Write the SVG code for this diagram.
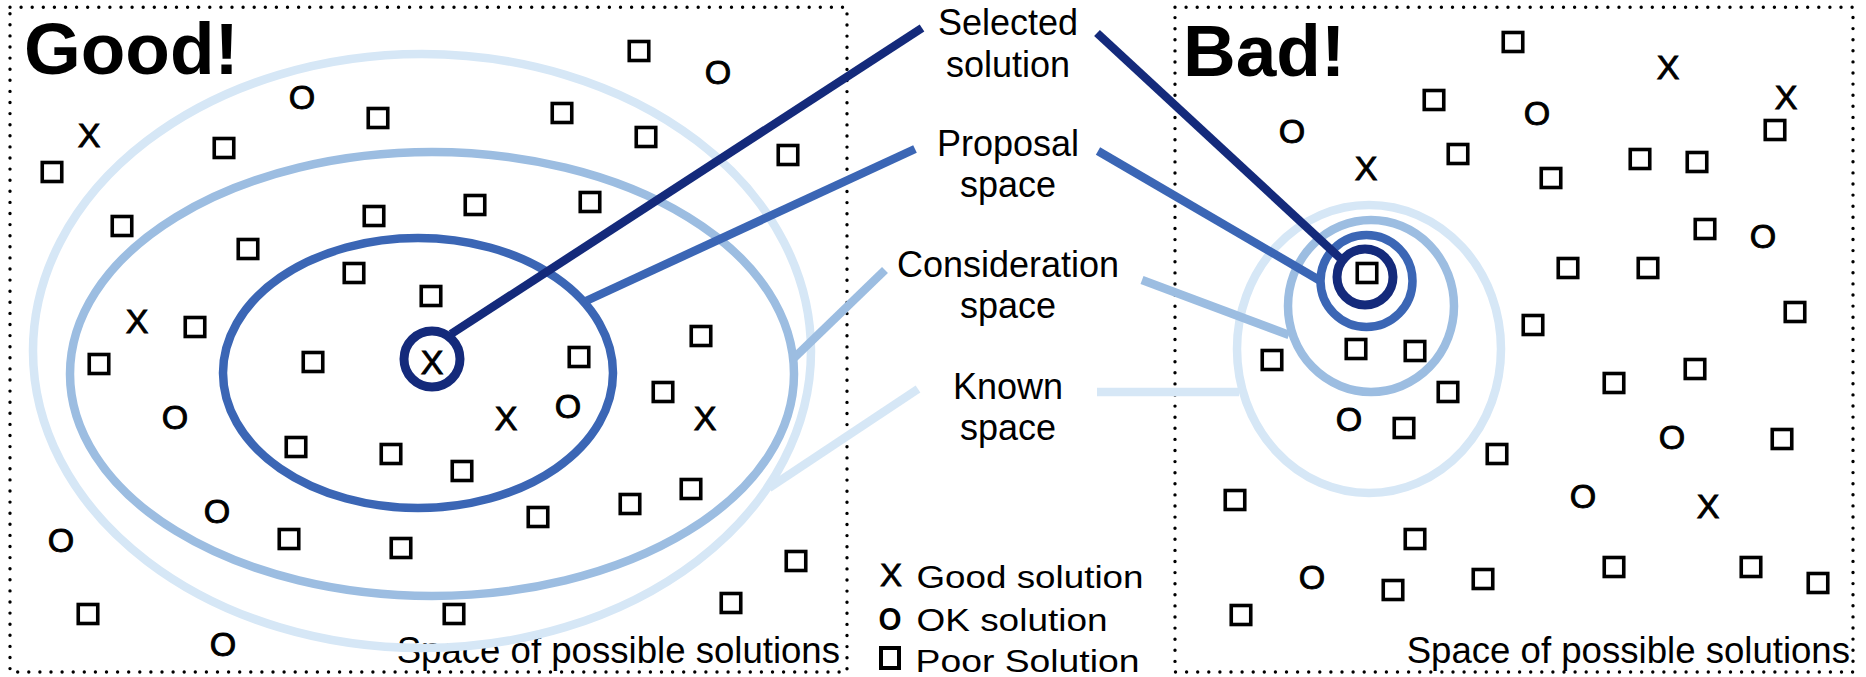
<svg xmlns="http://www.w3.org/2000/svg" width="1866" height="677" viewBox="0 0 1866 677">
<style>
.frame{fill:none;stroke:#000;stroke-width:3.4;stroke-dasharray:0 11.1;stroke-linecap:round}
.title{font-family:"Liberation Sans",Arial,sans-serif;font-weight:bold;font-size:73px;fill:#000}
.cap{font-family:"Liberation Sans",Arial,sans-serif;font-size:36.6px;fill:#000;text-anchor:end}
.lbl{font-family:"Liberation Sans",Arial,sans-serif;font-size:36px;fill:#000;text-anchor:middle}
.leg{font-family:"Liberation Sans",Arial,sans-serif;font-size:32px;fill:#000}
.mk{font-family:"Liberation Sans",Arial,sans-serif;font-size:34px;fill:#000;stroke:#000;stroke-width:0.9;text-anchor:middle}
.sq{fill:none;stroke:#000;stroke-width:3.6}
.sel{fill:none;stroke:#142a7b;stroke-width:9}
.pro{fill:none;stroke:#3b66b5;stroke-width:8.5}
.con{fill:none;stroke:#9cbde1;stroke-width:8.5}
.kno{fill:none;stroke:#d6e7f6;stroke-width:8.5}
</style>
<defs>
<rect id="s" x="-9.75" y="-9.5" width="19.5" height="19" class="sq"/>
</defs>
<rect width="1866" height="677" fill="#fff"/>

<g id="panel-good">
<rect class="frame" x="10" y="7.3" width="837" height="664.7"/>
<text class="title" x="24" y="74">Good!</text>
<text class="cap" x="840" y="663">Space of possible solutions</text>
</g>
<g id="panel-bad">
<rect class="frame" x="1175" y="7.3" width="678" height="664.7"/>
<text class="title" x="1183" y="76">Bad!</text>
<text class="cap" x="1850" y="663">Space of possible solutions</text>
</g>

<g id="good-known-space"><ellipse class="kno" cx="422" cy="351" rx="389" ry="297"/></g>
<g id="good-consideration-space"><ellipse class="con" cx="432" cy="374" rx="362" ry="222"/></g>
<g id="good-proposal-space"><ellipse class="pro" cx="418" cy="373" rx="195" ry="135"/></g>

<g id="bad-known-space"><ellipse class="kno" cx="1369" cy="349" rx="132" ry="144"/></g>
<g id="bad-consideration-space"><ellipse class="con" cx="1371" cy="306" rx="83" ry="86"/></g>
<g id="bad-proposal-space"><circle class="pro" cx="1366.5" cy="281" r="46"/></g>

<g id="connectors" fill="none" stroke-width="8.5">
<line x1="451" y1="334" x2="922" y2="28" stroke="#142a7b"/>
<line x1="1097" y1="33" x2="1340" y2="258" stroke="#142a7b"/>
<line x1="586" y1="301" x2="915" y2="149" stroke="#3b66b5"/>
<line x1="1098" y1="151" x2="1319" y2="280" stroke="#3b66b5"/>
<line x1="794" y1="358" x2="885" y2="270" stroke="#9cbde1"/>
<line x1="1142" y1="280" x2="1289" y2="335" stroke="#9cbde1"/>
<line x1="769" y1="488" x2="918" y2="389" stroke="#d6e7f6"/>
<line x1="1097" y1="392" x2="1239" y2="392" stroke="#d6e7f6"/>
</g>

<g id="good-selected"><circle class="sel" cx="432" cy="359" r="28"/><text class="mk" x="432" y="374">X</text></g>
<g id="bad-selected"><circle class="sel" cx="1365" cy="277" r="28"/><use href="#s" x="1367" y="273"/></g>

<g id="label-selected"><text class="lbl" x="1008" y="35">Selected</text><text class="lbl" x="1008" y="77">solution</text></g>
<g id="label-proposal"><text class="lbl" x="1008" y="156">Proposal</text><text class="lbl" x="1008" y="197">space</text></g>
<g id="label-consideration"><text class="lbl" x="1008" y="277">Consideration</text><text class="lbl" x="1008" y="318">space</text></g>
<g id="label-known"><text class="lbl" x="1008" y="399">Known</text><text class="lbl" x="1008" y="440">space</text></g>

<g id="legend">
<text class="leg" x="891" y="586" font-size="25" text-anchor="middle" stroke="#000" stroke-width="0.8" textLength="22" lengthAdjust="spacingAndGlyphs">X</text>
<text class="leg" x="890" y="630.3" font-size="28" font-weight="bold" text-anchor="middle" textLength="23" lengthAdjust="spacingAndGlyphs">O</text>
<rect x="881" y="648" width="18" height="20" fill="none" stroke="#000" stroke-width="4"/>
<text class="leg" x="916.5" y="588" textLength="227" lengthAdjust="spacingAndGlyphs">Good solution</text>
<text class="leg" x="916.5" y="630.7" textLength="191" lengthAdjust="spacingAndGlyphs">OK solution</text>
<text class="leg" x="915.5" y="671.5" textLength="224" lengthAdjust="spacingAndGlyphs">Poor Solution</text>
</g>

<g id="good-markers">
<use href="#s" x="639" y="51"/><use href="#s" x="378" y="118"/><use href="#s" x="562" y="113"/><use href="#s" x="646" y="137"/>
<use href="#s" x="224" y="148"/><use href="#s" x="788" y="155"/><use href="#s" x="52" y="172"/><use href="#s" x="122" y="226"/>
<use href="#s" x="475" y="205"/><use href="#s" x="590" y="202"/><use href="#s" x="374" y="216"/><use href="#s" x="248" y="249"/>
<use href="#s" x="354" y="273"/><use href="#s" x="431" y="296"/><use href="#s" x="195" y="327"/><use href="#s" x="701" y="336"/>
<use href="#s" x="99" y="364"/><use href="#s" x="313" y="362"/><use href="#s" x="579" y="357"/><use href="#s" x="663" y="392"/>
<use href="#s" x="296" y="447"/><use href="#s" x="391" y="454"/><use href="#s" x="462" y="471"/><use href="#s" x="691" y="489"/>
<use href="#s" x="630" y="504"/><use href="#s" x="538" y="517"/><use href="#s" x="289" y="539"/><use href="#s" x="401" y="548"/>
<use href="#s" x="796" y="561"/><use href="#s" x="731" y="603"/><use href="#s" x="88" y="614"/><use href="#s" x="454" y="614"/>
<text class="mk" x="302" y="108.5">O</text><text class="mk" x="718" y="84">O</text><text class="mk" x="175" y="429">O</text>
<text class="mk" x="568" y="418">O</text><text class="mk" x="217" y="523">O</text><text class="mk" x="61" y="552">O</text><text class="mk" x="223" y="656">O</text>
<text class="mk" x="89" y="147">X</text><text class="mk" x="137" y="333">X</text><text class="mk" x="506" y="430">X</text><text class="mk" x="705" y="430">X</text>
</g>

<g id="bad-markers">
<use href="#s" x="1513" y="42"/><use href="#s" x="1434" y="100"/><use href="#s" x="1775" y="130"/><use href="#s" x="1458" y="154"/>
<use href="#s" x="1551" y="178"/><use href="#s" x="1640" y="159"/><use href="#s" x="1697" y="162"/><use href="#s" x="1705" y="229"/>
<use href="#s" x="1568" y="268"/><use href="#s" x="1648" y="268"/><use href="#s" x="1795" y="312"/><use href="#s" x="1533" y="325"/>
<use href="#s" x="1356" y="349"/><use href="#s" x="1415" y="351"/><use href="#s" x="1272" y="360"/><use href="#s" x="1448" y="392"/>
<use href="#s" x="1404" y="428"/><use href="#s" x="1497" y="454"/><use href="#s" x="1614" y="383"/><use href="#s" x="1695" y="369"/>
<use href="#s" x="1782" y="439"/><use href="#s" x="1235" y="500"/><use href="#s" x="1415" y="539"/><use href="#s" x="1393" y="590"/>
<use href="#s" x="1483" y="579"/><use href="#s" x="1614" y="567"/><use href="#s" x="1751" y="567"/><use href="#s" x="1818" y="583"/>
<use href="#s" x="1241" y="615"/>
<text class="mk" x="1537" y="125">O</text><text class="mk" x="1292" y="143">O</text><text class="mk" x="1763" y="248">O</text>
<text class="mk" x="1349" y="431">O</text><text class="mk" x="1672" y="449">O</text><text class="mk" x="1583" y="508">O</text><text class="mk" x="1312" y="589">O</text>
<text class="mk" x="1668" y="79">X</text><text class="mk" x="1786" y="109">X</text><text class="mk" x="1366" y="180">X</text><text class="mk" x="1708" y="518">X</text>
</g>
</svg>
